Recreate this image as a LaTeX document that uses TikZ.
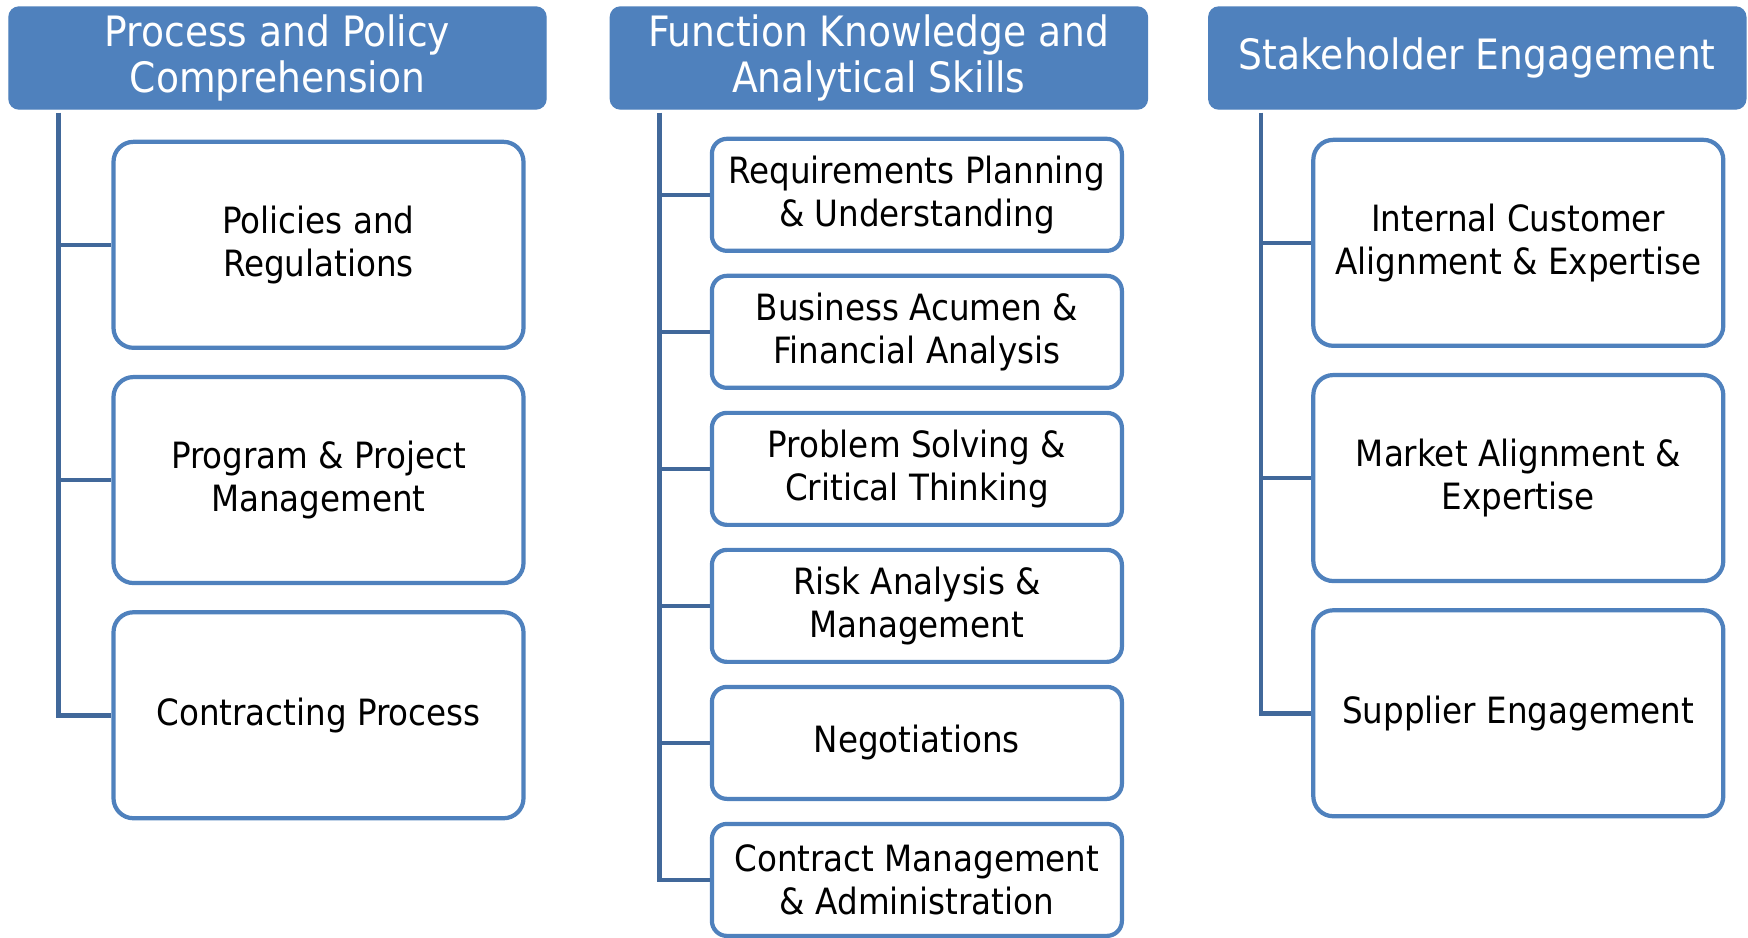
\documentclass[tikz,border=0pt]{standalone}
\usepackage{fontspec}
\setmainfont{DejaVu Sans Condensed}
\usetikzlibrary{positioning}
\definecolor{hdrblue}{RGB}{79,129,189}
\definecolor{linkblue}{RGB}{65,104,154}
\tikzset{
area/.style = {rectangle, rounded corners = 1mm, fill = hdrblue, draw = hdrblue,
   text = white, minimum width = 5.37cm, minimum height = 1.02cm, inner sep = 2pt,
   align = center, font = \fontsize{11.9}{12.9}\selectfont},
skill/.style = {rectangle, rounded corners = 2mm, draw = hdrblue, line width = 1.2pt,
   fill = white, minimum width = 4.1cm, minimum height = 2.06cm, inner sep = 2pt,
   align = center, font = \fontsize{10.3}{12.2}\selectfont},
skillshort/.style = {skill, rounded corners = 1.5mm, minimum height = 1.12cm},
branch/.style = {draw = linkblue, line width = 1.3pt}
}

\begin{document}
\begin{tikzpicture}

\useasboundingbox (0,0) rectangle (17.48,-9.37);

%% Competency areas
\node [area] (A1) at (2.775,-0.58) {Process and Policy\\Comprehension};
\node [area] (A2) [right = .63cm of A1] {Function Knowledge and\\Analytical Skills};
\node [area] (A3) [right = .60cm of A2] {Stakeholder Engagement};

%% Process and policy skills
\node [skill] (P1) [below = .30cm of A1, xshift = 4.1mm] {Policies and\\Regulations};
\node [skill] (P2) [below = .25cm of P1] {Program \& Project\\Management};
\node [skill] (P3) [below = .25cm of P2] {Contracting Process};

%% Function knowledge skills
\node [skillshort] (F1) [below = .27cm of A2, xshift = 3.8mm] {Requirements Planning\\\& Understanding};
\node [skillshort] (F2) [below = .208cm of F1] {Business Acumen \&\\Financial Analysis};
\node [skillshort] (F3) [below = .208cm of F2] {Problem Solving \&\\Critical Thinking};
\node [skillshort] (F4) [below = .208cm of F3] {Risk Analysis \&\\Management};
\node [skillshort] (F5) [below = .208cm of F4] {Negotiations};
\node [skillshort] (F6) [below = .208cm of F5] {Contract Management\\\& Administration};

%% Stakeholder skills
\node [skill] (S1) [below = .28cm of A3, xshift = 4.1mm] {Internal Customer\\Alignment \& Expertise};
\node [skill] (S2) [below = .25cm of S1] {Market Alignment \&\\Expertise};
\node [skill] (S3) [below = .25cm of S2] {Supplier Engagement};

%% Trunks
\coordinate (T1) at ([xshift = 5mm, yshift = -.3mm] A1.south west);
\coordinate (T2) at ([xshift = 5mm, yshift = -.3mm] A2.south west);
\coordinate (T3) at ([xshift = 5.3mm, yshift = -.3mm] A3.south west);

\draw [branch] (T1) |- (P3.west);
\path [branch] (T1 |- P1.west) edge (P1.west);
\path [branch] (T1 |- P2.west) edge (P2.west);

\draw [branch] (T2) |- (F6.west);
\path [branch] (T2 |- F1.west) edge (F1.west);
\path [branch] (T2 |- F2.west) edge (F2.west);
\path [branch] (T2 |- F3.west) edge (F3.west);
\path [branch] (T2 |- F4.west) edge (F4.west);
\path [branch] (T2 |- F5.west) edge (F5.west);

\draw [branch] (T3) |- (S3.west);
\path [branch] (T3 |- S1.west) edge (S1.west);
\path [branch] (T3 |- S2.west) edge (S2.west);

\end{tikzpicture}
\end{document}
